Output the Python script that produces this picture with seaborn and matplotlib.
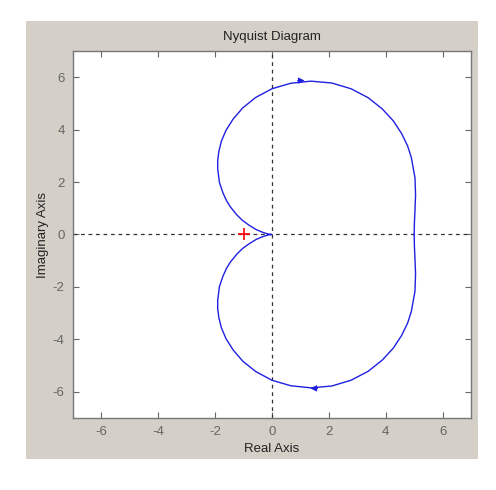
import seaborn as sns
import matplotlib.pyplot as plt
from matplotlib.patches import Rectangle
import pandas as pd

real_part = [5.0, 5.01, 5.03, 5.05, 5.03, 4.90, 4.77, 4.56, 4.27, 3.88, 3.38, 2.78, 2.10, 1.37,
             0.66, 0.0, -0.57, -1.03, -1.37, -1.62, -1.78, -1.87, -1.91, -1.91, -1.85, -1.73,
             -1.60, -1.47, -1.23, -1.03, -0.80, -0.56, -0.41, -0.32, -0.20, -0.14, -0.05, 0.0]
imag_part = [0.0, -0.46, -0.94, -1.50, -2.16, -2.94, -3.38, -3.85, -4.33, -4.79, -5.22, -5.56,
             -5.78, -5.85, -5.77, -5.56, -5.23, -4.83, -4.40, -3.97, -3.56, -3.17, -2.82, -2.51,
             -1.99, -1.60, -1.29, -1.06, -0.74, -0.53, -0.35, -0.19, -0.12, -0.08, -0.04, -0.02,
             -0.005, 0.0]

# arrow positions: (x, y, dx)
arrow_x = [1.35, 1.15]
arrow_y = [-5.87, 5.87]
arrow_dx = [-0.25, 0.25]

critical_point = (-1, 0)
ticks = [-6, -4, -2, 0, 2, 4, 6]

sns.set_style('ticks')
plt.rcParams['font.family'] = ['Liberation Sans', 'DejaVu Sans']
plt.rcParams['axes.unicode_minus'] = False

fig = plt.figure(figsize=(4.96, 4.90), dpi=100, facecolor='white')
fig.patches.append(Rectangle((26 / 496, 1 - 459 / 490), 452 / 496, 438 / 490,
                             transform=fig.transFigure, facecolor='#d4d0c8',
                             edgecolor='none', zorder=-5))
ax = fig.add_axes([73 / 496, 1 - 418 / 490, 398 / 496, 367 / 490])
ax.set_facecolor('white')

df = pd.DataFrame({'re': real_part + real_part[::-1],
                   'im': imag_part + [-v for v in imag_part[::-1]]})

ax.axhline(0, color='#333333', ls=(0, (3, 3)), lw=0.9, zorder=1)
ax.axvline(0, color='#333333', ls=(0, (3, 3)), lw=0.9, zorder=1)

sns.lineplot(data=df, x='re', y='im', sort=False, estimator=None,
             color='#2020e0', lw=1.0, ax=ax, zorder=3)

for x, y, dx in zip(arrow_x, arrow_y, arrow_dx):
    ax.annotate('', xy=(x, y), xytext=(x - dx, y),
                arrowprops=dict(arrowstyle='-|>', color='#2020e0', lw=0.8,
                                mutation_scale=9, shrinkA=0, shrinkB=0), zorder=4)

ax.plot(*critical_point, marker='+', color='red', ms=9, mew=1.2, zorder=4)

ax.set_xlim(-7, 7)
ax.set_ylim(-7, 7)
ax.set_xticks(ticks)
ax.set_yticks(ticks)
ax.tick_params(direction='in', top=True, right=True, length=4, width=0.8,
               color='#666666', labelcolor='#666666', labelsize=9.5, pad=6)
for s in ax.spines.values():
    s.set_color('#777777')
    s.set_linewidth(1.0)

ax.set_xlabel('Real Axis', fontsize=9.5, color='#222222', labelpad=3)
ax.set_ylabel('Imaginary Axis', fontsize=9.5, color='#222222', labelpad=3)
ax.set_title('Nyquist Diagram', fontsize=9.5, color='#222222', pad=8)

plt.savefig('out.png', dpi=100, facecolor=fig.get_facecolor())
